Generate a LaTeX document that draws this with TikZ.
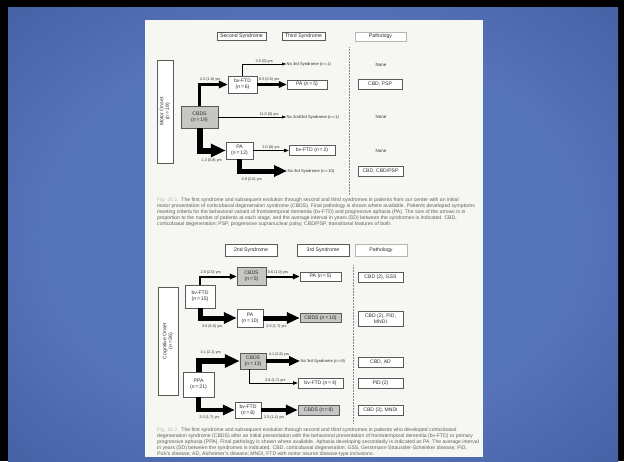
\documentclass[tikz,border=0pt]{standalone}
\usepackage{fontspec}
\setmainfont{Liberation Sans}
\usetikzlibrary{arrows.meta}

\definecolor{slideout}{RGB}{14,26,88}
\definecolor{slidein}{RGB}{86,116,186}
\definecolor{pagecol}{RGB}{246,247,242}
\definecolor{boxline}{RGB}{90,90,90}
\definecolor{boxgrey}{RGB}{198,198,196}
\definecolor{inkgrey}{RGB}{45,45,45}
\definecolor{capgrey}{RGB}{95,95,95}
\pgfdeclareradialshading{slideglow}{\pgfpoint{0bp}{0bp}}{color(0bp)=(slidein); color(22bp)=(slidein); color(50bp)=(slidein!55!slideout); color(71bp)=(slideout)}

\newcommand{\nn}[1]{(\textit{n}\,=\,#1)}

\begin{document}
\begin{tikzpicture}[x=1pt, y=-1pt,
    box/.style={draw=boxline, line width=0.5pt, fill=white, align=center, inner sep=0.5pt,
        font=\fontsize{5.1}{5.8}\selectfont, text=inkgrey},
    cbox/.style={box, fill=boxgrey},
    head/.style={box, font=\fontsize{5.2}{6}\selectfont, minimum height=8pt},
    soft/.style={draw=boxline!45},
    pathbox/.style={box, minimum width=45pt, minimum height=10pt},
    endtext/.style={anchor=west, inner sep=0.5pt, font=\fontsize{4.1}{4.5}\selectfont, text=inkgrey},
    plain/.style={inner sep=0.5pt, font=\fontsize{4.4}{5}\selectfont, text=inkgrey},
    yrs/.style={inner sep=0.6pt, font=\fontsize{3.8}{4.2}\selectfont, text=inkgrey},
    flow/.style={line width=#1, -{Triangle[length=3pt 2, width=2pt 1.8]}},
    divider/.style={draw=boxline!70, line width=0.5pt, densely dotted},
    caption/.style={anchor=north west, align=left, inner sep=0pt,
        font=\fontsize{5.1}{6}\selectfont, text=capgrey}
]

    \useasboundingbox (0,0) rectangle (624,461);

    % slide and page
    \fill[black] (0,0) rectangle (624,461);
    \shade[shading=slideglow] (8,7) rectangle (618,461);
    \fill[pagecol] (145,20) rectangle (483,457);

    % Fig. 20.1 -- motor onset
    \node[head, minimum width=49pt] (second) at (241.5,36.5) {Second Syndrome};
    \node[head, minimum width=43pt] (third) at (303.5,36.5) {Third Syndrome};
    \node[head, soft, minimum width=51pt, minimum height=9pt] (patho1) at (380.5,36.5) {Pathology};
    \draw[divider] (349,47) -- (349,195);

    \node[box, rotate=90, minimum width=103pt, minimum height=16pt] (motor) at (165,111.5) {Motor Onset\\\nn{19}};
    \node[cbox, minimum width=37pt, minimum height=22pt] (cbds) at (199.5,117) {CBDS\\\nn{19}};
    \node[box, minimum width=29pt, minimum height=17pt] (ftd) at (242.5,84.5) {bv-FTD\\\nn{6}};
    \node[box, minimum width=40pt, minimum height=9pt] (pa) at (307,84.5) {PA \nn{5}};
    \node[box, minimum width=27pt, minimum height=17pt] (pa2) at (239.5,150.5) {PA\\\nn{12}};
    \node[box, minimum width=46pt, minimum height=10pt] (ftd2) at (312,150.5) {bv-FTD \nn{2}};
    \node[endtext] (none3a) at (286,64) {No 3rd Syndrome \nn{1}};
    \node[endtext] (none23) at (286,117) {No 2nd/3rd Syndrome \nn{1}};
    \node[endtext] (none3b) at (287,171) {No 3rd Syndrome \nn{10}};

    \node[plain] (pnone1) at (381,65) {None};
    \node[pathbox, minimum width=44pt] (pcbdpsp) at (380,84.5) {CBD, PSP};
    \node[plain] (pnone2) at (381,117) {None};
    \node[plain] (pnone3) at (381,151) {None};
    \node[pathbox] (pcbd) at (380.5,171) {CBD, CBD/PSP};

    \draw[flow=0.5pt] (ftd.north) |- node[yrs, pos=0.75, above] (t1) {3.5 (0) yrs} (none3a.west);
    \draw[flow=3pt] (cbds.north) |- node[yrs, pos=0.5, anchor=south west, xshift=-1.5pt, yshift=1.5pt] (t2) {2.2 (1.8) yrs} (ftd.west);
    \draw[flow=2.5pt] (ftd) -- node[yrs, pos=0, anchor=south west, yshift=1.2pt] (t3) {0.5 (0.5) yrs} (pa);
    \draw[flow=0.5pt] (cbds) -- node[yrs, pos=0.75, above] (t4) {11.0 (0) yrs} (none23.west);
    \draw[flow=6pt] (cbds.south) |- node[yrs, pos=0.5, anchor=north west, xshift=-1.5pt, yshift=-4.5pt] (t5) {1.3 (0.8) yrs} (pa2.west);
    \draw[flow=0.8pt] (pa2) -- node[yrs, above] (t6) {2.0 (0) yrs} (ftd2);
    \draw[flow=5pt] (pa2.south) |- node[yrs, pos=0.5, anchor=north west, xshift=-1pt, yshift=-3.5pt] (t7) {3.9 (2.6) yrs} (none3b.west);

    \node[caption] (cap1) at (157,198) {\textcolor{capgrey!45}{Fig. 20.1.}\enspace The first syndrome and subsequent evolution through second and third syndromes in patients from our center with an initial\\
        motor presentation of corticobasal degeneration syndrome (CBDS). Final pathology is shown where available. Patients developed symptoms\\
        meeting criteria for the behavioral variant of frontotemporal dementia (bv-FTD) and progressive aphasia (PA). The size of the arrows is in\\
        proportion to the number of patients at each stage, and the average interval in years (SD) between the syndromes is indicated. CBD,\\
        corticobasal degeneration; PSP, progressive supranuclear palsy; CBD/PSP, transitional features of both.};

    % Fig. 20.2 -- cognitive onset
    \node[head, minimum width=52pt, minimum height=12pt] (second2) at (251,250.5) {2nd Syndrome};
    \node[head, minimum width=52pt, minimum height=12pt] (third2) at (323,250.5) {3rd Syndrome};
    \node[head, soft, minimum width=52pt, minimum height=12pt] (patho2) at (381,250.5) {Pathology};
    \draw[divider] (353,265) -- (353,423);

    \node[box, rotate=90, minimum width=108pt, minimum height=20pt] (cogn) at (168,341) {Cognitive Onset\\\nn{36}};
    \node[box, minimum width=30pt, minimum height=23pt] (ftd3) at (200,296.5) {bv-FTD\\\nn{15}};
    \node[cbox, minimum width=29pt, minimum height=18pt] (cbds2) at (251.5,276.5) {CBDS\\\nn{5}};
    \node[box, minimum width=41pt, minimum height=9pt] (pa3) at (320.5,276.5) {PA \nn{5}};
    \node[box, minimum width=26pt, minimum height=18pt] (pa4) at (250,318) {PA\\\nn{10}};
    \node[cbox, minimum width=41pt, minimum height=9pt] (cbds3) at (320.5,318) {CBDS \nn{10}};
    \node[box, minimum width=31pt, minimum height=25pt] (ppa) at (198.5,384.5) {PPA\\\nn{21}};
    \node[cbox, minimum width=26pt, minimum height=16pt] (cbds4) at (253,361) {CBDS\\\nn{13}};
    \node[endtext] (none3c) at (300,361) {No 3rd Syndrome \nn{9}};
    \node[box, minimum width=45pt, minimum height=10pt] (ftd4) at (320.5,383) {bv-FTD \nn{4}};
    \node[box, minimum width=26pt, minimum height=16pt] (ftd5) at (248,410) {bv-FTD\\\nn{8}};
    \node[cbox, minimum width=41pt, minimum height=10pt] (cbds5) at (318.5,410) {CBDS \nn{8}};

    \node[pathbox] (pgss) at (380.5,277) {CBD (2), GSS};
    \node[pathbox, minimum height=15pt] (ppid) at (380.5,318.5) {CBD (2), PiD,\\MNDI};
    \node[pathbox] (pad) at (380.5,362) {CBD, AD};
    \node[pathbox] (ppid2) at (380.5,383) {PiD (2)};
    \node[pathbox] (pmndi) at (380.5,410) {CBD (3), MNDI};

    \draw[flow=2pt] (ftd3.north) |- node[yrs, pos=0.5, anchor=south west, xshift=-1pt, yshift=1pt] (t8) {2.8 (2.0) yrs} (cbds2.west);
    \draw[flow=2pt] (cbds2) -- node[yrs, pos=0, anchor=south west, yshift=1pt] (t9) {0.6 (1.0) yrs} (pa3);
    \draw[flow=5pt] (ftd3.south) |- node[yrs, pos=0.5, anchor=north west, xshift=-1pt, yshift=-3.5pt] (t10) {3.6 (6.0) yrs} (pa4.west);
    \draw[flow=5pt] (pa4) -- node[yrs, pos=0, anchor=north west, yshift=-3.5pt] (t11) {2.6 (1.7) yrs} (cbds3);
    \draw[flow=6pt] (ppa.north) |- node[yrs, pos=0.5, anchor=south west, xshift=-1.5pt, yshift=3.5pt] (t12) {4.1 (2.1) yrs} (cbds4.west);
    \draw[flow=4pt] (cbds4) -- node[yrs, pos=0, anchor=south west, yshift=2.5pt] (t13) {4.1 (2.6) yrs} (none3c.west);
    \draw[flow=0.8pt] ([xshift=-4pt]cbds4.south) |- node[yrs, pos=0.77, above] (t14) {2.8 (1.7) yrs} (ftd4.west);
    \draw[flow=4.5pt] (ppa.south) |- node[yrs, pos=0.5, anchor=north west, xshift=-2pt, yshift=-3pt] (t15) {2.0 (1.7) yrs} (ftd5.west);
    \draw[flow=4.5pt] (ftd5) -- node[yrs, pos=0, anchor=north west, yshift=-3pt] (t16) {2.0 (1.1) yrs} (cbds5);

    \node[caption] (cap2) at (157,428) {\textcolor{capgrey!45}{Fig. 20.2.}\enspace The first syndrome and subsequent evolution through second and third syndromes in patients who developed corticobasal\\
        degeneration syndrome (CBDS) after an initial presentation with the behavioral presentation of frontotemporal dementia (bv-FTD) or primary\\
        progressive aphasia (PPA). Final pathology is shown where available. Aphasia developing secondarily is indicated as PA. The average interval\\
        in years (SD) between the syndromes is indicated. CBD, corticobasal degeneration; GSS, Gerstmann-Straussler-Scheinker disease; PiD,\\
        Pick's disease; AD, Alzheimer's disease; MNDI, FTD with motor neuron disease-type inclusions.};

\end{tikzpicture}
\end{document}
